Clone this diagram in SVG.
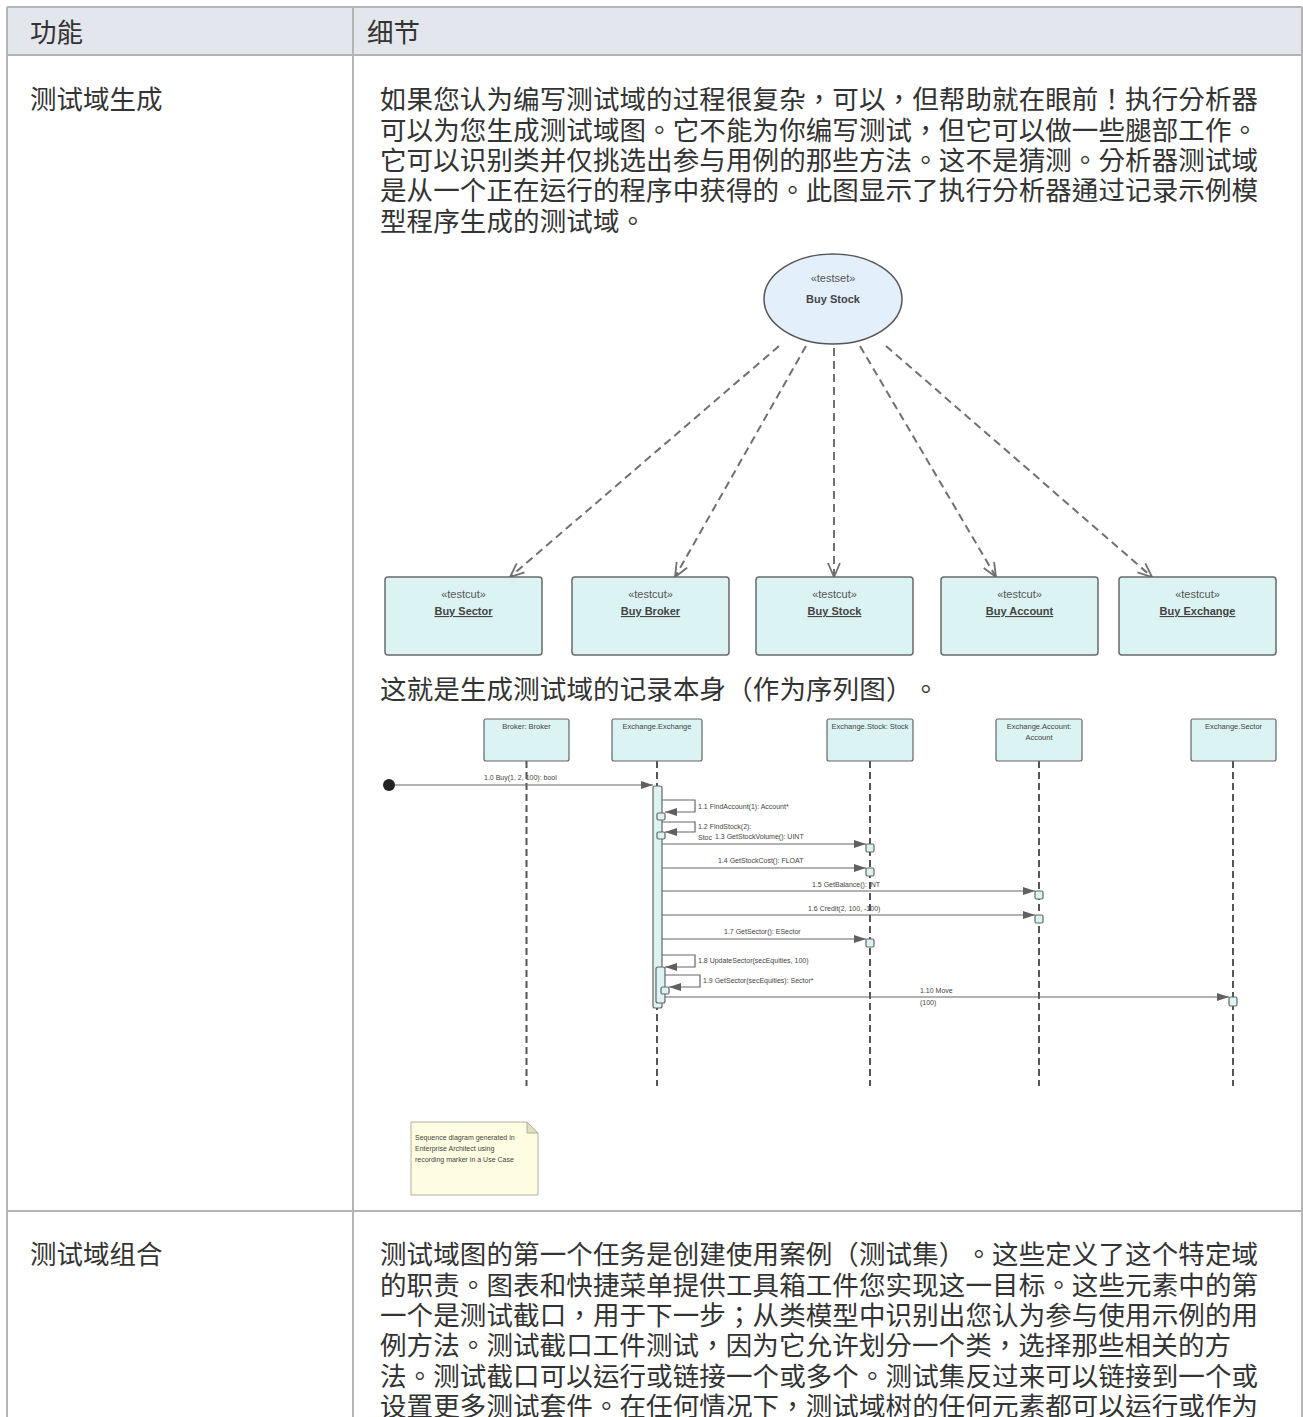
<svg xmlns="http://www.w3.org/2000/svg" width="1303" height="1417" viewBox="0 0 1303 1417">
<style>
.cjk{font-family:"Noto Sans CJK TC","Noto Sans",sans-serif;font-size:26.5px;fill:#333;text-spacing-trim:space-all}
.sm{font-family:"Liberation Sans",Arial,sans-serif;fill:#444}
.msg{font-size:7px}
.stereo{font-size:11px;fill:#555;text-anchor:middle}
.name{font-size:11px;font-weight:bold;fill:#444;text-anchor:middle;text-decoration:underline}
.cut{fill:#dbf3f3;stroke:#6a6a6a;stroke-width:1.5}
.dep{fill:none;stroke:#707070;stroke-width:2;stroke-dasharray:8 5;marker-end:url(#open)}
.life{fill:none;stroke:#555;stroke-width:2;stroke-dasharray:7 4}
.ll{fill:#dbf3f3;stroke:#666;stroke-width:1.2}
.m{fill:none;stroke:#666;stroke-width:1.2;marker-end:url(#tri)}
.act{fill:#dbf3f3;stroke:#666;stroke-width:1.2}
.grid{stroke:#b4b4b4;stroke-width:2}
</style>
<defs>
<marker id="open" viewBox="0 0 16 14" refX="15" refY="7" markerWidth="16" markerHeight="14" markerUnits="userSpaceOnUse" orient="auto"><path d="M1,1 L15,7 L1,13" fill="none" stroke="#707070" stroke-width="1.8"/></marker>
<marker id="tri" viewBox="0 0 12 8" refX="12" refY="4" markerWidth="12" markerHeight="8" markerUnits="userSpaceOnUse" orient="auto"><path d="M0,0 L12,4 L0,8 z" fill="#606060"/></marker>
</defs>
<rect width="1303" height="1417" fill="#fff"/>
<g id="table" xml:lang="zh-TW" lang="zh-TW">
<rect x="7" y="7" width="1295" height="48" fill="#e3e6ec"/>
<line class="grid" x1="7" y1="7" x2="1302" y2="7"/>
<line class="grid" x1="7" y1="55" x2="1302" y2="55"/>
<line class="grid" x1="7" y1="1211" x2="1302" y2="1211"/>
<line class="grid" x1="7" y1="7" x2="7" y2="1417"/>
<line class="grid" x1="353" y1="7" x2="353" y2="1417"/>
<line class="grid" x1="1302" y1="7" x2="1302" y2="1417"/>
<text class="cjk" x="30" y="42">功能</text>
<text class="cjk" x="367" y="42">细节</text>
<text class="cjk" x="30" y="109">测试域生成</text>
<text class="cjk" x="380" y="109" textLength="878" lengthAdjust="spacing">如果您认为编写测试域的过程很复杂，可以，但帮助就在眼前！执行分析器</text>
<text class="cjk" x="380" y="139.5" textLength="878" lengthAdjust="spacing">可以为您生成测试域图。它不能为你编写测试，但它可以做一些腿部工作。</text>
<text class="cjk" x="380" y="170" textLength="878" lengthAdjust="spacing">它可以识别类并仅挑选出参与用例的那些方法。这不是猜测。分析器测试域</text>
<text class="cjk" x="380" y="200" textLength="878" lengthAdjust="spacing">是从一个正在运行的程序中获得的。此图显示了执行分析器通过记录示例模</text>
<text class="cjk" x="380" y="230.5" textLength="266" lengthAdjust="spacing">型程序生成的测试域。</text>
<text class="cjk" x="380" y="699" textLength="559" lengthAdjust="spacing">这就是生成测试域的记录本身（作为序列图）。</text>
<text class="cjk" x="30" y="1264">测试域组合</text>
<text class="cjk" x="380" y="1264" textLength="878" lengthAdjust="spacing">测试域图的第一个任务是创建使用案例（测试集）。这些定义了这个特定域</text>
<text class="cjk" x="380" y="1294.5" textLength="878" lengthAdjust="spacing">的职责。图表和快捷菜单提供工具箱工件您实现这一目标。这些元素中的第</text>
<text class="cjk" x="380" y="1325" textLength="878" lengthAdjust="spacing">一个是测试截口，用于下一步；从类模型中识别出您认为参与使用示例的用</text>
<text class="cjk" x="380" y="1355" textLength="851" lengthAdjust="spacing">例方法。测试截口工件测试，因为它允许划分一个类，选择那些相关的方</text>
<text class="cjk" x="380" y="1385.5" textLength="878" lengthAdjust="spacing">法。测试截口可以运行或链接一个或多个。测试集反过来可以链接到一个或</text>
<text class="cjk" x="380" y="1416" textLength="878" lengthAdjust="spacing">设置更多测试套件。在任何情况下，测试域树的任何元素都可以运行或作为</text>
</g>
<g id="connectors">
<path class="dep" d="M779,346 L510,577"/>
<path class="dep" d="M806,346 L675,577"/>
<path class="dep" d="M834,348 L834,577"/>
<path class="dep" d="M860,346 L996,577"/>
<path class="dep" d="M886,346 L1152,577"/>
</g>
<g id="testset-buy-stock">
<ellipse cx="833" cy="299" rx="69" ry="45" fill="#e3effb" stroke="#555" stroke-width="1.5"/>
<text class="sm stereo" x="833" y="282">«testset»</text>
<text class="sm" x="833" y="303" font-size="11" font-weight="bold" text-anchor="middle" fill="#444">Buy Stock</text>
</g>
<g id="testcut-buy-sector">
<rect class="cut" x="385" y="577" width="157" height="78" rx="3"/>
<text class="sm stereo" x="463.5" y="598">«testcut»</text>
<text class="sm name" x="463.5" y="615">Buy Sector</text>
</g>
<g id="testcut-buy-broker">
<rect class="cut" x="572" y="577" width="157" height="78" rx="3"/>
<text class="sm stereo" x="650.5" y="598">«testcut»</text>
<text class="sm name" x="650.5" y="615">Buy Broker</text>
</g>
<g id="testcut-buy-stock">
<rect class="cut" x="756" y="577" width="157" height="78" rx="3"/>
<text class="sm stereo" x="834.5" y="598">«testcut»</text>
<text class="sm name" x="834.5" y="615">Buy Stock</text>
</g>
<g id="testcut-buy-account">
<rect class="cut" x="941" y="577" width="157" height="78" rx="3"/>
<text class="sm stereo" x="1019.5" y="598">«testcut»</text>
<text class="sm name" x="1019.5" y="615">Buy Account</text>
</g>
<g id="testcut-buy-exchange">
<rect class="cut" x="1119" y="577" width="157" height="78" rx="3"/>
<text class="sm stereo" x="1197.5" y="598">«testcut»</text>
<text class="sm name" x="1197.5" y="615">Buy Exchange</text>
</g>
<g id="sequence">
<g id="lifelines">
<line class="life" x1="526.5" y1="761" x2="526.5" y2="1086"/>
<line class="life" x1="657" y1="761" x2="657" y2="1086"/>
<line class="life" x1="870" y1="761" x2="870" y2="1086"/>
<line class="life" x1="1039" y1="761" x2="1039" y2="1086"/>
<line class="life" x1="1233" y1="761" x2="1233" y2="1086"/>
</g>
<g id="ll-broker"><rect class="ll" x="484" y="719" width="85" height="42" rx="2"/><text class="sm" x="526.5" y="729" font-size="7.5" text-anchor="middle">Broker: Broker</text></g>
<g id="ll-exchange"><rect class="ll" x="612" y="719" width="90" height="42" rx="2"/><text class="sm" x="657" y="729" font-size="7.5" text-anchor="middle">Exchange.Exchange</text></g>
<g id="ll-stock"><rect class="ll" x="827" y="719" width="86" height="42" rx="2"/><text class="sm" x="870" y="729" font-size="7.5" text-anchor="middle">Exchange.Stock: Stock</text></g>
<g id="ll-account"><rect class="ll" x="996" y="719" width="86" height="42" rx="2"/><text class="sm" x="1039" y="729" font-size="7.5" text-anchor="middle">Exchange.Account:</text><text class="sm" x="1039" y="740" font-size="7.5" text-anchor="middle">Account</text></g>
<g id="ll-sector"><rect class="ll" x="1191" y="719" width="85" height="42" rx="2"/><text class="sm" x="1233.5" y="729" font-size="7.5" text-anchor="middle">Exchange.Sector</text></g>
<g id="activations">
<rect class="act" x="653" y="786" width="9" height="222" rx="2"/>
<rect class="act" x="656" y="967" width="9" height="36" rx="2"/>
<rect class="act" x="657" y="813" width="8" height="7" rx="1.5"/>
<rect class="act" x="657" y="832" width="8" height="7" rx="1.5"/>
<rect class="act" x="866" y="844" width="8" height="8" rx="1.5"/>
<rect class="act" x="866" y="868" width="8" height="8" rx="1.5"/>
<rect class="act" x="1035" y="891" width="8" height="8" rx="1.5"/>
<rect class="act" x="1035" y="915" width="8" height="8" rx="1.5"/>
<rect class="act" x="866" y="939" width="8" height="8" rx="1.5"/>
<rect class="act" x="661" y="987" width="8" height="7" rx="1.5"/>
<rect class="act" x="1229" y="997" width="8" height="9" rx="1.5"/>
</g>
<g id="messages">
<circle cx="389" cy="785" r="6" fill="#222"/>
<path class="m" d="M395,785 H653"/>
<path class="m" d="M662,800 H695 V812 H665"/>
<path class="m" d="M662,822 H695 V832 H665"/>
<path class="m" d="M662,844 H866"/>
<path class="m" d="M662,868 H866"/>
<path class="m" d="M662,891 H1035"/>
<path class="m" d="M662,915 H1035"/>
<path class="m" d="M662,939 H866"/>
<path class="m" d="M662,955 H695 V967 H665"/>
<path class="m" d="M665,975 H700 V987 H669"/>
<path class="m" d="M665,997 H1229"/>
<text class="sm msg" x="484" y="780">1.0 Buy(1, 2, 100): bool</text>
<text class="sm msg" x="698" y="809">1.1 FindAccount(1): Account*</text>
<text class="sm msg" x="698" y="829">1.2 FindStock(2):</text>
<text class="sm msg" x="698" y="840">Stoc</text>
<text class="sm msg" x="715" y="839">1.3  GetStockVolume(): UINT</text>
<text class="sm msg" x="718" y="863">1.4  GetStockCost(): FLOAT</text>
<text class="sm msg" x="812" y="887">1.5  GetBalance(): INT</text>
<text class="sm msg" x="808" y="911">1.6 Credit(2, 100, -100)</text>
<text class="sm msg" x="724" y="934">1.7  GetSector(): ESector</text>
<text class="sm msg" x="698" y="963">1.8 UpdateSector(secEquities, 100)</text>
<text class="sm msg" x="703" y="983">1.9 GetSector(secEquities): Sector*</text>
<text class="sm msg" x="920" y="993">1.10 Move</text>
<text class="sm msg" x="920" y="1005">(100)</text>
</g>
</g>
<g id="note">
<path d="M411,1122 H527 L538,1133 V1195 H411 Z" fill="#fffde1" stroke="#b0b0a0" stroke-width="1"/>
<path d="M527,1122 V1133 H538 Z" fill="#e2dec2" stroke="#b0b0a0" stroke-width="1"/>
<text class="sm" x="415" y="1140" font-size="7">Sequence diagram generated in</text>
<text class="sm" x="415" y="1151" font-size="7">Enterprise Architect using</text>
<text class="sm" x="415" y="1162" font-size="7">recording marker in a Use Case</text>
</g>
</svg>
